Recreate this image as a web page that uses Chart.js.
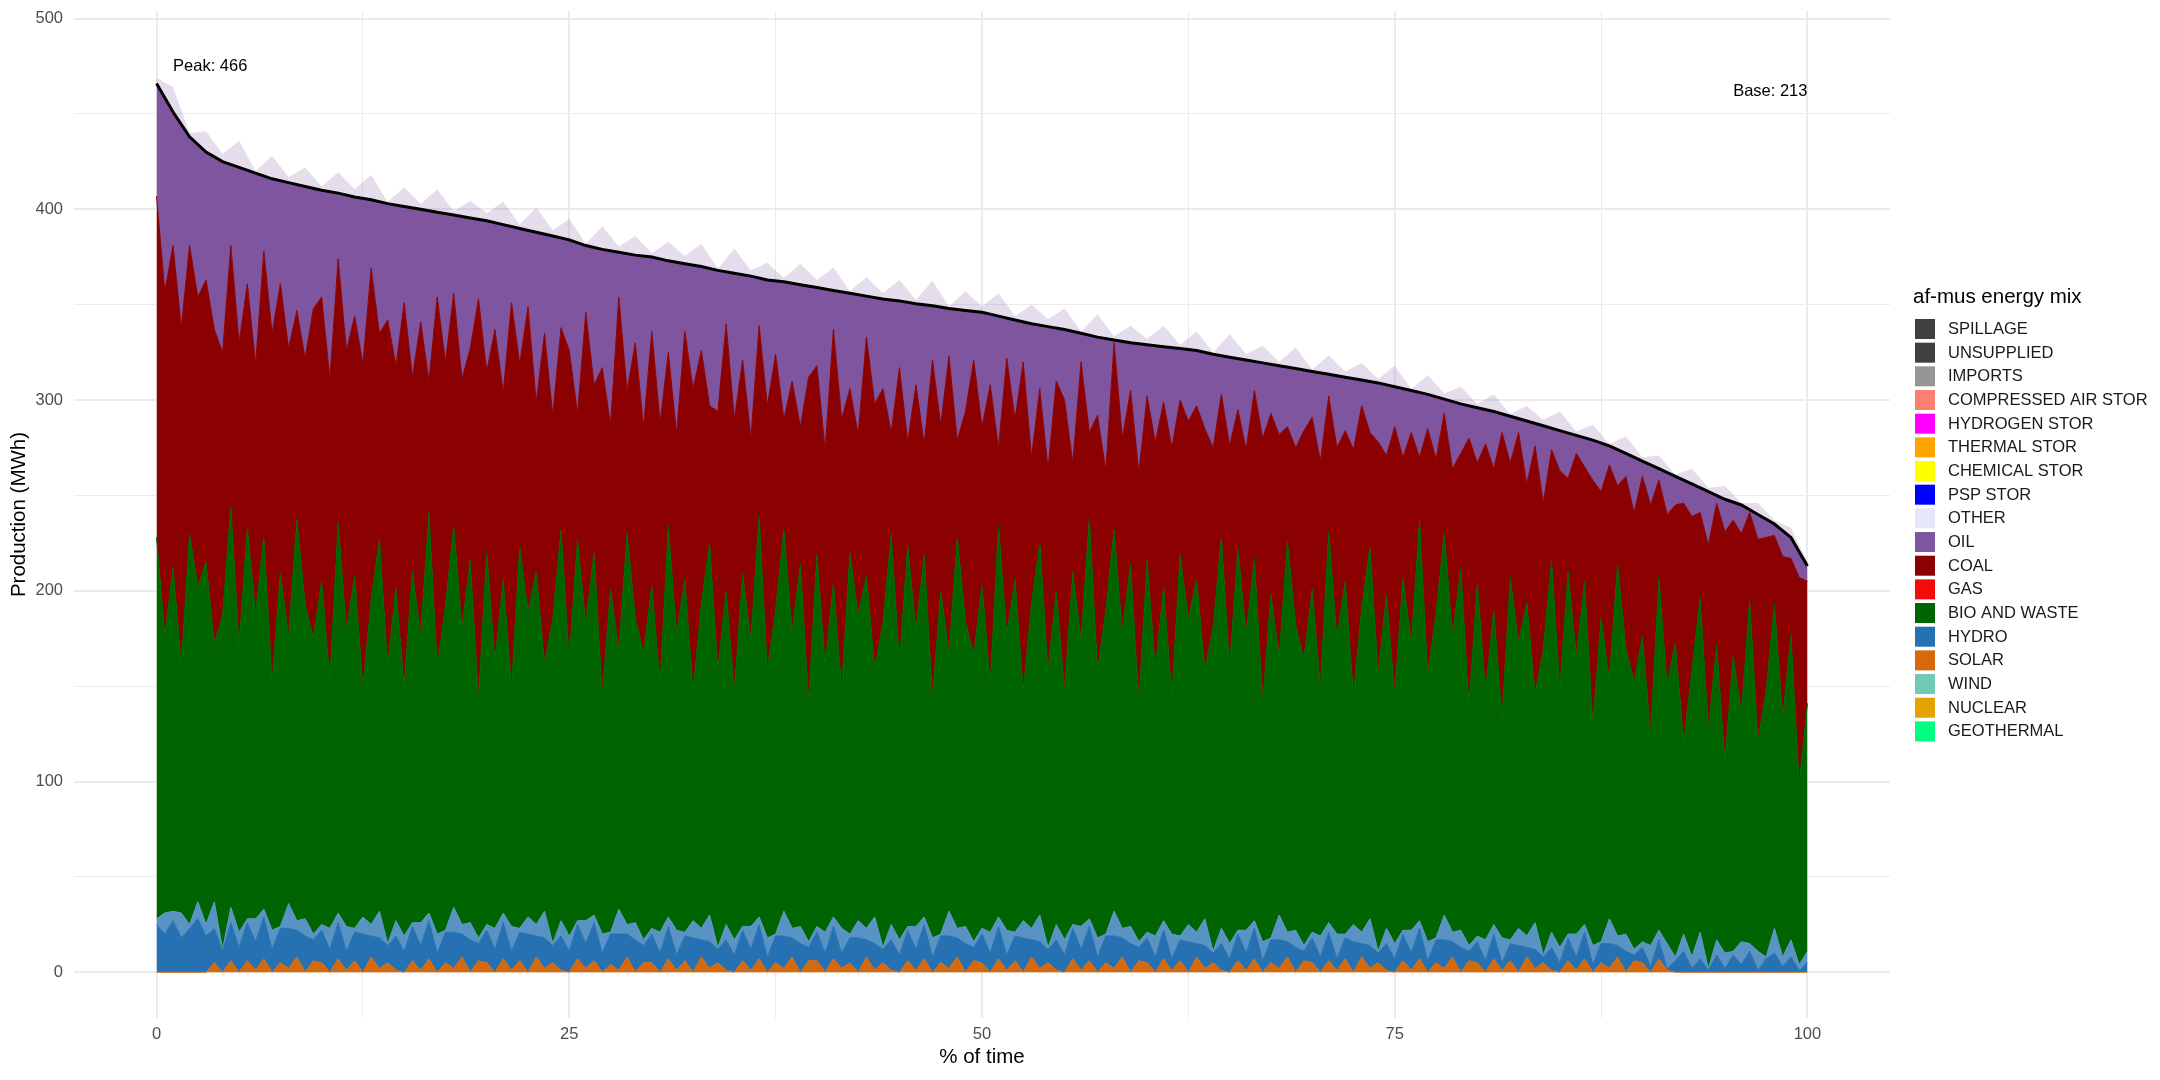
<!DOCTYPE html>
<html>
<head>
<meta charset="utf-8">
<title>af-mus energy mix</title>
<script src="https://cdn.jsdelivr.net/npm/chart.js@4.4.1/dist/chart.umd.min.js"></script>
<style>
  html, body { margin: 0; padding: 0; background: #fff; }
  #wrap { width: 2160px; height: 1080px; position: relative; }
</style>
</head>
<body>
<div id="wrap"><canvas id="mix"></canvas></div>
<script>
// ----------------- DATA (MWh, sorted hours, one value every 0.5 % of time) -----------------
const solar = [
  0,0,0,0,0,0,0,5,0,6,  0,6,1,7,0,5,2,8,0,6,  5,0,7,1,6,0,8,2,5,1,  0,6,1,7,0,5,2,8,0,6,
  5,0,7,1,6,0,8,2,5,1,  0,7,2,6,0,4,1,8,0,5,  5,0,7,1,6,0,8,2,5,1,  0,6,1,7,0,5,2,8,0,6,
  6,0,7,2,5,0,8,1,5,1,  0,6,1,7,0,5,2,8,0,6,  5,0,7,1,6,0,8,2,5,1,  0,7,1,6,0,5,2,8,0,6,
  5,0,7,1,6,0,8,2,5,1,  0,6,1,7,0,5,2,8,0,6,  5,0,6,1,7,0,8,2,5,1,  0,6,1,7,0,5,2,8,0,6,
  5,0,7,1,6,0,8,2,5,1,  0,6,1,7,0,5,2,8,0,6,  5,0,7,1,0,0,0,0,0,0,  0,0,0,0,0,0,0,0,0,0,
  0
];
const hydro = [
  25,20,27,18,23,28,19,18,11,20,  13,20,15,22,12,18,21,14,19,11,  17,12,19,10,15,20,11,16,9,18,
  11,18,13,20,10,16,19,12,17,9,   17,12,19,10,15,20,11,16,9,18,   11,18,13,20,10,16,19,12,17,9,
  15,10,17,8,13,18,9,14,7,16,     9,16,11,18,8,14,17,10,15,7,     15,10,17,8,13,18,9,14,7,16,
  9,16,11,18,8,14,17,10,15,7,     15,10,17,8,13,18,9,14,7,16,     9,16,11,18,8,14,17,10,15,7,
  13,8,15,6,11,16,7,12,5,14,      7,14,9,16,6,12,15,8,13,5,       13,8,15,6,11,16,7,12,5,14,
  7,14,9,16,6,12,15,8,13,5,       11,6,13,4,9,14,5,10,3,12,       5,12,7,14,4,10,13,6,11,3,
  8,3,10,1,6,11,2,7,1,9,          2,9,4,11,1,7,10,3,8,1,
  5
];
const wind = [
  3,11,5,13,2,9,6,14,1,8,  8,2,12,4,10,1,13,5,9,3,  3,11,5,13,2,9,6,14,1,8,  8,2,12,4,10,1,13,5,9,3,
  3,11,5,13,2,9,6,14,1,8,  8,2,12,4,10,1,13,5,9,3,  3,11,5,13,2,9,6,14,1,8,  8,2,12,4,10,1,13,5,9,3,
  3,11,5,13,2,9,6,14,1,8,  8,2,12,4,10,1,13,5,9,3,  3,11,5,13,2,9,6,14,1,8,  8,2,12,4,10,1,13,5,9,3,
  3,11,5,13,2,9,6,14,1,8,  8,2,12,4,10,1,13,5,9,3,  3,11,5,13,2,9,6,14,1,8,  8,2,12,4,10,1,13,5,9,3,
  3,11,5,13,2,9,6,14,1,8,  8,2,12,4,10,1,13,5,9,3,  3,11,5,13,2,9,6,14,1,8,  8,2,12,4,10,1,13,5,9,3,
  6
];
const bioWaste = [
  200,145,180,130,205,165,190,135,175,210,  150,205,160,195,130,185,140,210,165,155,
  180,130,205,155,185,120,170,195,145,175,  130,185,150,210,140,170,200,155,190,125,
  195,140,175,125,200,160,185,130,170,205,  145,200,155,190,125,180,135,205,160,150,
  180,130,205,155,185,120,170,195,145,175,  130,185,150,210,140,170,200,155,190,125,
  195,140,175,125,200,160,185,130,170,205,  145,200,155,190,125,180,135,205,160,150,
  180,130,205,155,185,120,170,195,145,175,  130,185,150,210,140,170,200,155,190,125,
  195,140,175,125,200,160,185,130,170,205,  145,200,155,190,125,180,135,205,160,150,
  180,130,205,155,185,120,170,195,145,175,  130,185,150,210,140,170,200,155,190,125,
  185,130,165,115,190,150,175,120,160,195,  135,190,145,180,115,170,125,195,150,140,
  160,110,185,135,165,100,150,175,125,155,  100,155,120,180,110,140,170,125,160,95,
  130
];
const coal = [
  179,181,169,177,151,152,148,165,138,137,  159,128,131,150,183,152,151,110,129,173,
  149,158,138,147,136,170,174,108,182,116,  202,101,165,69,194,128,122,131,111,210,
  95,174,98,202,96,160,89,173,107,106,      162,66,164,88,172,86,186,75,144,119,
  133,137,91,105,130,159,133,72,136,140,    143,112,106,100,139,134,58,132,72,171,
  99,113,133,142,86,95,125,139,123,53,      155,54,129,58,178,87,156,51,110,155,
  83,157,41,145,84,173,77,81,106,110,       153,57,146,45,134,73,98,102,91,121,
  86,119,97,130,81,104,91,127,94,75,        116,73,97,88,139,95,117,60,93,120,
  90,119,71,100,79,129,106,60,122,73,       141,63,111,33,129,81,63,88,60,141,
  63,130,74,150,60,110,62,130,77,58,        115,49,107,60,129,66,113,41,90,89,
  84,121,51,90,72,126,81,45,97,74,          121,71,94,46,106,80,36,85,40,108,
  64
];

// total production (black duration curve), one value per 1 % of time
const totalLoad = [
  466,451,438,430,425,422,419,416,414,412,
  410,408.5,406.5,405,403,401.5,400,398.5,397,395.5,
  394,392,390,388,386,384,381,379,377.5,376,
  375,373,371.5,370,368,366.5,365,363,362,360.5,
  359,357.5,356,354.5,353,352,350.5,349.5,348,347,
  346,344,342,340,338.5,337,335,333,331.5,330,
  329,328,327,326,324,322.5,321,319.5,318,316.5,
  315,313.5,312,310.5,309,307,305,303,300.5,298,
  296,294,291.5,289,286.5,284,281.5,279,276,272,
  268,264,260,256,252,248,245,240,235,228,
  213
];
// light "other" hairs above the curve, one value per 1 % of time
const otherMw = [
  3,13,2,11,4,14,1,12,3,10,   2,11,4,13,1,10,3,12,2,9,    4,12,2,13,3,11,1,12,3,10,
  2,10,4,12,1,13,3,9,2,11,    4,12,1,10,3,11,2,13,1,10,   3,12,2,10,4,11,1,12,2,9,
  3,11,2,10,1,12,3,9,2,11,    1,10,3,9,2,11,1,10,3,9,     2,9,1,8,3,10,2,8,1,9,
  2,7,1,8,2,7,1,6,2,5,        2
];

const xTicks = [0, 12.5, 25, 37.5, 50, 62.5, 75, 87.5, 100];
const yTicks = [0, 50, 100, 150, 200, 250, 300, 350, 400, 450, 500];

const legendTitle = 'af-mus energy mix';
const legendNames = ['SPILLAGE','UNSUPPLIED','IMPORTS','COMPRESSED AIR STOR','HYDROGEN STOR','THERMAL STOR',
  'CHEMICAL STOR','PSP STOR','OTHER','OIL','COAL','GAS','BIO AND WASTE','HYDRO','SOLAR','WIND','NUCLEAR','GEOTHERMAL'];
const legendColors = ['#404040','#404040','#969696','#FA8072','#FF00FF','#FFA500',
  '#FFFF00','#0000FF','#E6E6FA','#7F559F','#8B0000','#F20C0C','#006400','#2671B1','#D5690E','#72C9B5','#E3A402','#00FF7F'];

const peakValue = Math.max(...totalLoad);
const baseValue = Math.min(...totalLoad);

// ----------------- HELPERS -----------------
const FONT = '"Liberation Sans", Arial, sans-serif';
const pts = (arr, step) => arr.map((v, i) => ({ x: i * step, y: v }));

function area(label, data, color, fill, stack){
  return {
    label: label,
    data: data,
    backgroundColor: color,
    borderColor: color,
    borderWidth: 1,
    fill: fill,
    stack: stack,
    pointRadius: 0,
    tension: 0
  };
}

// ----------------- PLUGINS -----------------
// legend on the right (ggplot style, with the unused technologies too)
const mixLegend = {
  id: 'mixLegend',
  afterDraw(chart){
    const ctx = chart.ctx;
    const x0 = chart.chartArea.right + 25;
    ctx.save();
    ctx.textBaseline = 'middle';
    ctx.textAlign = 'left';
    ctx.fillStyle = '#000';
    ctx.font = '20.5px ' + FONT;
    ctx.fillText(legendTitle, x0 - 2, 297);
    ctx.font = '16.5px ' + FONT;
    legendNames.forEach((name, i) => {
      const top = 319 + i * 23.67;
      ctx.fillStyle = legendColors[i];
      ctx.fillRect(x0, top, 20, 20);
      ctx.fillStyle = '#1A1A1A';
      ctx.fillText(name, x0 + 33, top + 10.5);
    });
    ctx.restore();
  }
};

// peak / base notes
const peakBase = {
  id: 'peakBase',
  afterDatasetsDraw(chart){
    const {ctx, scales} = chart;
    ctx.save();
    ctx.font = '16.5px ' + FONT;
    ctx.fillStyle = '#000';
    ctx.textBaseline = 'middle';
    ctx.textAlign = 'left';
    ctx.fillText('Peak: ' + peakValue, scales.x.getPixelForValue(1), scales.y.getPixelForValue(475));
    ctx.textAlign = 'right';
    ctx.fillText('Base: ' + baseValue, scales.x.getPixelForValue(100), scales.y.getPixelForValue(462));
    ctx.restore();
  }
};

// ----------------- CHART -----------------
Chart.defaults.font.family = FONT;
Chart.defaults.font.size = 16.5;
Chart.defaults.color = '#4D4D4D';

const half = 0.5;
new Chart(document.getElementById('mix'), {
  type: 'line',
  data: {
    datasets: [
      area('SOLAR', pts(solar, half), '#D5690E', 'origin', 'mix'),
      area('HYDRO', pts(hydro, half), '#2671B1', '-1', 'mix'),
      area('WIND', pts(wind, half), '#5893C4', '-1', 'mix'),
      area('BIO AND WASTE', pts(bioWaste, half), '#006400', '-1', 'mix'),
      area('COAL', pts(coal, half), '#8B0000', '-1', 'mix'),
      // oil fills from the top of coal up to the total curve
      area('OIL', pts(totalLoad, 1), '#7F559F', 4, 'top'),
      Object.assign(area('OTHER', pts(otherMw, 1), 'rgba(127,85,159,0.2)', '-1', 'top'),
        { borderWidth: 0, borderColor: 'rgba(0,0,0,0)' }),
      {
        label: 'Total',
        data: pts(totalLoad, 1),
        stack: 'line',
        borderColor: '#000',
        borderWidth: 3,
        fill: false,
        pointRadius: 0,
        tension: 0,
        order: -1
      }
    ]
  },
  options: {
    responsive: true,
    maintainAspectRatio: false,
    devicePixelRatio: 1,
    animation: false,
    events: [],
    layout: { padding: { top: 11, right: 270, left: 0, bottom: 0 } },
    plugins: { legend: { display: false }, tooltip: { enabled: false } },
    scales: {
      x: {
        type: 'linear',
        min: -5,
        max: 105,
        afterBuildTicks: s => { s.ticks = xTicks.map(v => ({ value: v })); },
        afterFit: s => { s.height = 62; s.paddingLeft = 0; s.paddingRight = 0; },
        ticks: {
          padding: 7,
          autoSkip: false,
          maxRotation: 0,
          callback: v => (v % 25 === 0 ? v : '')
        },
        grid: {
          color: '#EBEBEB',
          lineWidth: c => (c.tick && c.tick.value % 25 === 0 ? 2 : 1),
          drawTicks: false
        },
        border: { display: false },
        title: {
          display: true,
          text: '% of time',
          color: '#000',
          font: { size: 20.5 },
          padding: { top: 0, bottom: 10 }
        }
      },
      y: {
        stacked: true,
        min: -24,
        max: 504,
        afterBuildTicks: s => { s.ticks = yTicks.map(v => ({ value: v })); },
        afterFit: s => { s.width = 74; s.paddingTop = 0; s.paddingBottom = 0; },
        ticks: {
          padding: 11,
          autoSkip: false,
          callback: v => (v % 100 === 0 ? v : '')
        },
        grid: {
          color: '#EBEBEB',
          lineWidth: c => (c.tick && c.tick.value % 100 === 0 ? 2 : 1),
          drawTicks: false
        },
        border: { display: false },
        title: {
          display: true,
          text: 'Production (MWh)',
          color: '#000',
          font: { size: 20.5 },
          padding: { top: 7, bottom: 0 }
        }
      }
    }
  },
  plugins: [peakBase, mixLegend]
});
</script>
</body>
</html>
